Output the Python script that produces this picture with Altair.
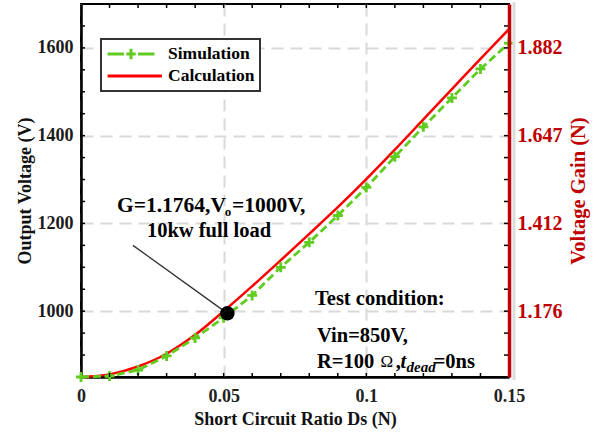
import altair as alt
import pandas as pd

FONT = "Liberation Serif"
GREEN = "#5fcc1f"
RED = "#ff0000"
DARKRED = "#c00000"

# ---- data ----
ds = [0.0, 0.01, 0.02, 0.03, 0.04, 0.05, 0.06, 0.07, 0.08, 0.09, 0.10, 0.11, 0.12, 0.13, 0.14, 0.15]
sim_v = [850, 852, 866, 898, 939, 985, 1036, 1100, 1157, 1218, 1282, 1352, 1420, 1486, 1552, 1611]
calc_v = [850, 856, 874, 903, 946, 1000, 1057, 1116, 1176, 1237, 1301, 1368, 1437, 1506, 1575, 1643]
series_names = ["Simulation", "Calculation"]

x_major = [0, 0.05, 0.1, 0.15]
x_minor = [0.01, 0.02, 0.03, 0.04, 0.05, 0.06, 0.07, 0.08, 0.09, 0.10, 0.11, 0.12, 0.13, 0.14]
v_major = [1000, 1200, 1400, 1600]
v_minor = [900, 950, 1000, 1050, 1100, 1150, 1200, 1250, 1300, 1350, 1400, 1450, 1500, 1550, 1600, 1650]
gain_ticks = [1.17647, 1.41176, 1.64706, 1.88235]

# operating point
op_ds, op_v = 0.0513, 995

W, H = 428, 373

sim_df = pd.DataFrame({"ds": ds, "v": sim_v})
calc_df = pd.DataFrame({"ds": ds, "v": calc_v})
xminor_df = pd.DataFrame({"ds": x_minor})
vminor_df = pd.DataFrame({"v": v_minor})
gain_df = pd.DataFrame({"g": gain_ticks})
leg_df = pd.DataFrame({"ds": ds[:2], "v": sim_v[:2], "series": series_names})

xscale = alt.Scale(domain=[0, 0.15], nice=False, zero=False)
vscale = alt.Scale(domain=[850, 1700], nice=False, zero=False)

x_axis = alt.Axis(values=x_major, format=".2~f", title="Short Circuit Ratio Ds (N)",
                  labelFont=FONT, labelFontSize=18, labelFontWeight="bold", labelColor="#222",
                  titleFont=FONT, titleFontSize=18, titleFontWeight="bold", titleColor="#111",
                  ticks=False, domainColor="black", domainWidth=2.5,
                  grid=True, gridDash=[12, 7], gridColor="#d9d9d9", gridWidth=2,
                  labelPadding=10, titlePadding=5, labelFlush=False)
y_axis = alt.Axis(values=v_major, format="d", title="Output Voltage (V)",
                  labelFont=FONT, labelFontSize=18, labelFontWeight="bold", labelColor="#1a1a1a",
                  titleFont=FONT, titleFontSize=18, titleFontWeight="bold", titleColor="#111",
                  ticks=False, domainColor="black", domainWidth=2.5,
                  grid=True, gridDash=[12, 7], gridColor="#d9d9d9", gridWidth=2,
                  labelPadding=8, titlePadding=3)

X = alt.X("ds:Q", scale=xscale, axis=x_axis)
Y = alt.Y("v:Q", scale=vscale, axis=y_axis)

calc_line = alt.Chart(calc_df).mark_line(color=RED, strokeWidth=2.5, interpolate="monotone").encode(x=X, y=Y)
sim_line = alt.Chart(sim_df).mark_line(color=GREEN, strokeWidth=2.8, strokeDash=[8, 4]).encode(x=X, y=Y)
sim_pts = alt.Chart(sim_df).mark_point(shape="M-1,0H1M0,-1V1", filled=False, size=100,
                                       strokeWidth=2.8, color=GREEN, opacity=1).encode(x=X, y=Y)

SIM_PATH = "M-1,0H-0.3M0.3,0H1M-0.2,0H0.2M0,-0.22V0.22"
CALC_PATH = "M-1,0H1.32"
leg = alt.Legend(title=None, orient="none", legendX=20, legendY=35, symbolSize=2200,
                 symbolStrokeWidth=3, labelFont=FONT, labelFontSize=17.5, labelFontWeight="bold",
                 labelColor="black", strokeColor="#333", fillColor="white", padding=5,
                 clipHeight=20, labelOffset=12)
legend_layer = alt.Chart(leg_df).transform_filter("false").mark_point(filled=False, strokeWidth=3, opacity=1).encode(
    x=X, y=Y,
    color=alt.Color("series:N", scale=alt.Scale(domain=series_names, range=[GREEN, RED]), legend=leg),
    shape=alt.Shape("series:N", scale=alt.Scale(domain=series_names, range=[SIM_PATH, CALC_PATH]), legend=leg),
)

# inward ticks
left_ticks = alt.Chart(vminor_df).mark_rule(color="black", strokeWidth=1.5).encode(
    y=Y, x=alt.value(0), x2=alt.value(4))
right_ticks = alt.Chart(vminor_df).mark_rule(color="black", strokeWidth=1.5).encode(
    y=Y, x=alt.value(W - 5), x2=alt.value(W))
bottom_ticks = alt.Chart(xminor_df).mark_rule(color="black", strokeWidth=1.5).encode(
    x=X, y=alt.value(H - 4), y2=alt.value(H))
top_ticks = alt.Chart(xminor_df).mark_rule(color="black", strokeWidth=1.5).encode(
    x=X, y=alt.value(0), y2=alt.value(4))
shadow = alt.Chart(xminor_df.head(1)).mark_rule(color="#dcdcdc", strokeWidth=3).encode(
    x=alt.value(W + 5), y=alt.value(-2), y2=alt.value(H + 3))

# annotations
def txt(s, xd, yd, size=20.5, weight="bold", align="left", style="normal"):
    return alt.Chart(xminor_df.head(1)).mark_text(
        text=s, font=FONT, fontSize=size, fontWeight=weight, fontStyle=style,
        align=align, baseline="alphabetic", color="black").encode(
        x=alt.X(datum=xd, scale=xscale, axis=x_axis), y=alt.Y(datum=yd, scale=vscale, axis=y_axis))

pointer = alt.Chart(xminor_df.head(1)).mark_rule(color="#333", strokeWidth=1.3).encode(
    x=alt.X(datum=0.0182, scale=xscale, axis=x_axis), y=alt.Y(datum=1150, scale=vscale, axis=y_axis),
    x2=alt.X2(datum=op_ds), y2=alt.Y2(datum=op_v))
dot = alt.Chart(xminor_df.head(1)).mark_circle(size=210, color="black", opacity=1).encode(
    x=alt.X(datum=op_ds, scale=xscale, axis=x_axis), y=alt.Y(datum=op_v, scale=vscale, axis=y_axis))

annots = [
    txt("G=1.1764,V", 0.01262, 1225, size=21.5),
    txt("o", 0.0504, 1216, size=13),
    txt("=1000V,", 0.0529, 1225, size=21.5),
    txt("10kw full load", 0.04486, 1168, align="center"),
    txt("Test condition:", 0.08201, 1013),
    txt("Vin=850V,", 0.08271, 929),
    txt("R=100", 0.08271, 871),
    txt("Ω", 0.1050, 873, size=17, weight="normal"),
    txt(",", 0.1103, 871),
    txt("t", 0.1120, 871, style="italic"),
    txt("dead", 0.1141, 862, size=15, style="italic"),
    txt("=0ns", 0.1236, 871),
]

volt = alt.layer(calc_line, sim_line, sim_pts, legend_layer, left_ticks, right_ticks,
                 bottom_ticks, top_ticks, shadow, pointer, dot, *annots)

gain_layer = alt.Chart(gain_df).mark_rule(opacity=0).encode(
    y=alt.Y("g:Q", scale=alt.Scale(domain=[1, 2], nice=False, zero=False),
            axis=alt.Axis(orient="right", values=gain_ticks, format=".3f", title="Voltage Gain (N)",
                          labelFont=FONT, labelFontSize=20, labelFontWeight="bold", labelColor=DARKRED,
                          titleFont=FONT, titleFontSize=20.5, titleFontWeight="bold", titleColor=DARKRED,
                          titleAngle=270, titleBaseline="top",
                          ticks=False, grid=False, domainColor=DARKRED, domainWidth=3.5,
                          labelPadding=8, titlePadding=6, zindex=1)))

chart = alt.layer(volt, gain_layer).resolve_scale(y="independent").properties(
    width=W, height=H,
    autosize=alt.AutoSizeParams(type="none"),
    padding={"left": 81, "top": 4, "right": 101, "bottom": 56},
    background="white",
).configure_view(stroke="black", strokeWidth=2).configure_legend(strokeWidth=2)

chart.save("out.html", embed_options={"renderer": "svg", "actions": False})
